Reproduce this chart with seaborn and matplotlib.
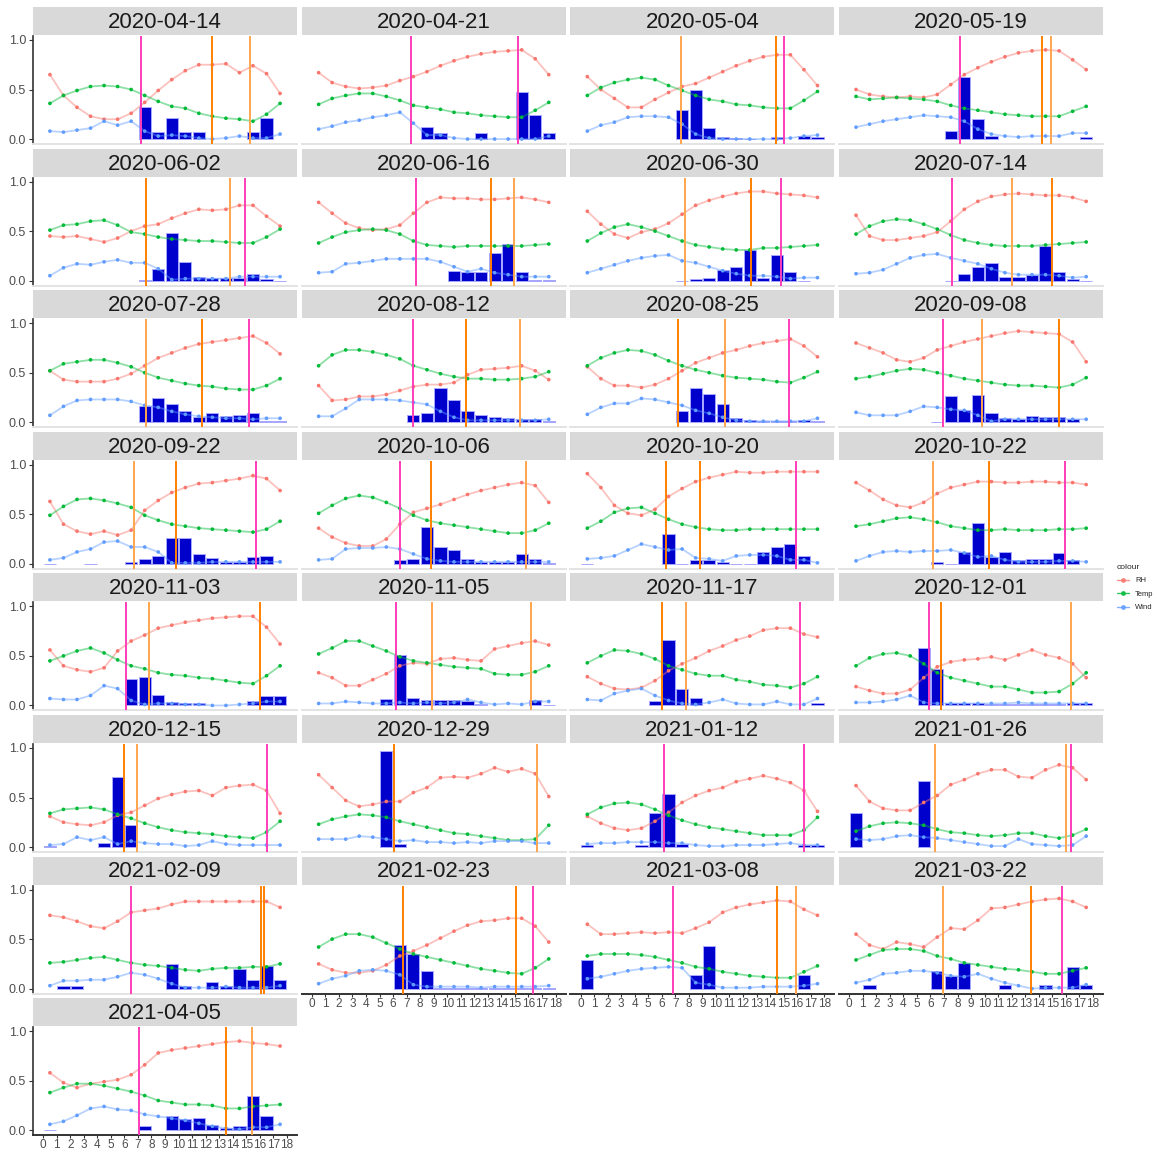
import numpy as np
import pandas as pd
import seaborn as sns
import matplotlib.pyplot as plt
from matplotlib.lines import Line2D

N = np.nan

# ---- data ----------------------------------------------------------------
dates = ["2020-04-14", "2020-04-21", "2020-05-04", "2020-05-19",
         "2020-06-02", "2020-06-16", "2020-06-30", "2020-07-14",
         "2020-07-28", "2020-08-12", "2020-08-25", "2020-09-08",
         "2020-09-22", "2020-10-06", "2020-10-20", "2020-10-22",
         "2020-11-03", "2020-11-05", "2020-11-17", "2020-12-01",
         "2020-12-15", "2020-12-29", "2021-01-12", "2021-01-26",
         "2021-02-09", "2021-02-23", "2021-03-08", "2021-03-22",
         "2021-04-05"]

hours = [h + 0.5 for h in range(18)]

rh = [
    [.65, .44, .32, .23, .20, .20, .26, .37, .49, .60, .69, .75, .75, .76, .67, .74, .66, .46],
    [.67, .57, .53, .51, .52, .54, .59, .63, .68, .74, .79, .83, .86, .88, .89, .90, .81, .65],
    [.63, .50, .41, .32, .32, .40, .47, .53, .56, .62, .68, .74, .79, .83, .85, .85, .70, .54],
    [.50, .45, .43, .42, .43, .42, .45, .55, .65, .72, .78, .83, .87, .89, .90, .89, .80, .70],
    [.45, .44, .45, .42, .39, .43, .50, .55, .57, .63, .68, .72, .71, .72, .76, .76, .65, .55],
    [.79, .68, .58, .53, .51, .52, .56, .68, .79, .84, .83, .83, .82, .82, .83, .84, .82, .79],
    [.70, .57, .47, .43, .49, .52, .58, .67, .76, .81, .85, .88, .90, .90, .88, .87, .86, .84],
    [.66, .45, .41, .41, .43, .45, .49, .60, .72, .80, .85, .87, .88, .87, .86, .86, .84, .80],
    [.52, .43, .41, .41, .41, .44, .49, .57, .65, .70, .75, .79, .81, .83, .85, .87, .80, .69],
    [.37, .22, .23, .26, .26, .28, .32, .36, .38, .38, .40, .48, .53, .54, .55, .57, .52, .43],
    [.56, .44, .37, .37, .35, .38, .44, .52, .60, .65, .70, .73, .77, .80, .82, .84, .77, .66],
    [.80, .75, .70, .63, .61, .65, .73, .77, .81, .84, .87, .90, .92, .91, .90, .89, .81, .61],
    [.63, .40, .33, .30, .33, .29, .34, .54, .64, .72, .77, .81, .82, .84, .86, .89, .86, .74],
    [.36, .27, .21, .18, .18, .25, .40, .52, .56, .60, .65, .70, .74, .77, .80, .82, .79, .62],
    [.91, .77, .59, .51, .49, .55, .68, .76, .83, .87, .90, .93, .92, .92, .93, .93, .93, .93],
    [.82, .74, .65, .59, .57, .62, .71, .77, .80, .83, .83, .82, .82, .83, .83, .82, .82, .80],
    [.56, .40, .36, .34, .38, .55, .65, .71, .78, .81, .84, .86, .88, .89, .90, .90, .79, .62],
    [.33, .28, .20, .20, .26, .32, .40, .43, .42, .47, .48, .46, .45, .57, .60, .63, .65, .61],
    [.29, .22, .17, .16, .18, .25, .35, .42, .48, .55, .60, .66, .70, .76, .78, .78, .72, .69],
    [.19, .15, .12, .12, .16, .28, .39, .44, .46, .47, .49, .46, .51, .56, .51, .48, .42, .28],
    [.31, .25, .23, .22, .25, .32, .35, .42, .49, .53, .56, .57, .52, .60, .62, .63, .57, .34],
    [.73, .60, .47, .41, .43, .46, .46, .55, .60, .70, .71, .70, .74, .80, .76, .79, .74, .51],
    [.31, .24, .19, .17, .19, .26, .35, .45, .52, .57, .60, .66, .69, .72, .69, .65, .57, .36],
    [.62, .46, .39, .37, .37, .45, .52, .63, .68, .74, .78, .78, .71, .70, .78, .83, .80, .68],
    [.74, .72, .68, .63, .61, .68, .77, .79, .81, .85, .88, .88, .88, .88, .88, .88, .88, .82],
    [.25, .19, .16, .16, .18, .24, .33, .38, .44, .51, .58, .64, .68, .69, .71, .71, .63, .47],
    [.65, .55, .55, .56, .57, .56, .57, .56, .61, .67, .77, .82, .85, .87, .89, .88, .80, .74],
    [.55, .44, .40, .47, .45, .42, .52, .61, .60, .69, .81, .82, .85, .88, .90, .91, .88, .82],
    [.58, .48, .43, .47, .49, .51, .56, .66, .78, .81, .83, .85, .87, .89, .90, .88, .87, .85],
]

temp = [
    [.36, .44, .49, .53, .54, .53, .50, .44, .38, .33, .31, .26, .23, .21, .20, .18, .25, .36],
    [.35, .41, .44, .46, .46, .43, .39, .34, .32, .30, .27, .26, .24, .23, .22, .22, .29, .37],
    [.44, .52, .57, .60, .62, .60, .54, .49, .44, .40, .38, .35, .34, .32, .31, .31, .39, .48],
    [.43, .40, .41, .42, .41, .40, .38, .34, .31, .29, .27, .25, .24, .23, .23, .23, .28, .33],
    [.51, .56, .57, .60, .61, .56, .49, .47, .44, .42, .41, .40, .40, .39, .38, .38, .44, .52],
    [.38, .44, .49, .51, .52, .51, .47, .40, .36, .35, .34, .35, .35, .35, .35, .35, .36, .37],
    [.40, .48, .54, .57, .54, .50, .45, .40, .36, .34, .32, .31, .31, .33, .33, .34, .35, .36],
    [.47, .55, .60, .62, .61, .57, .52, .46, .41, .38, .36, .35, .35, .35, .36, .37, .38, .39],
    [.52, .59, .61, .63, .63, .60, .56, .50, .45, .42, .39, .37, .36, .34, .33, .33, .37, .44],
    [.57, .68, .73, .73, .71, .68, .64, .57, .53, .49, .46, .44, .44, .43, .43, .44, .46, .51],
    [.57, .65, .70, .73, .72, .68, .62, .57, .53, .50, .47, .45, .44, .43, .41, .40, .45, .51],
    [.44, .46, .49, .52, .54, .53, .50, .47, .44, .42, .40, .38, .37, .37, .36, .35, .38, .45],
    [.49, .58, .65, .66, .64, .61, .57, .49, .44, .40, .38, .36, .35, .34, .33, .32, .35, .43],
    [.51, .59, .66, .69, .67, .62, .56, .49, .44, .41, .39, .37, .35, .33, .31, .31, .34, .41],
    [.36, .43, .52, .56, .57, .51, .45, .40, .37, .35, .34, .34, .35, .35, .35, .35, .35, .35],
    [.38, .40, .43, .46, .47, .45, .42, .38, .36, .34, .34, .35, .34, .34, .34, .35, .35, .36],
    [.45, .50, .55, .58, .53, .46, .40, .37, .33, .31, .30, .28, .27, .25, .23, .22, .30, .40],
    [.52, .58, .65, .65, .60, .55, .49, .45, .43, .41, .39, .38, .37, .32, .31, .31, .34, .40],
    [.43, .50, .56, .55, .52, .47, .40, .36, .32, .30, .30, .26, .24, .21, .20, .18, .22, .29],
    [.40, .48, .52, .53, .50, .42, .33, .28, .25, .22, .19, .19, .16, .13, .13, .14, .22, .33],
    [.34, .38, .39, .40, .38, .33, .29, .24, .20, .17, .15, .14, .13, .11, .10, .09, .15, .26],
    [.23, .28, .31, .33, .32, .30, .26, .23, .20, .17, .14, .13, .11, .09, .07, .07, .08, .22],
    [.33, .40, .44, .45, .43, .38, .32, .27, .23, .20, .18, .16, .14, .12, .12, .12, .17, .30],
    [.16, .21, .24, .25, .24, .22, .18, .15, .14, .12, .11, .12, .14, .14, .11, .09, .12, .18],
    [.26, .27, .29, .31, .32, .29, .26, .24, .23, .21, .19, .18, .20, .21, .21, .22, .22, .25],
    [.42, .50, .55, .55, .52, .46, .40, .35, .32, .29, .26, .23, .20, .18, .16, .15, .21, .30],
    [.33, .35, .35, .35, .34, .32, .29, .26, .22, .20, .17, .15, .13, .12, .11, .11, .17, .23],
    [.29, .34, .39, .40, .40, .38, .33, .30, .26, .24, .22, .20, .19, .17, .15, .15, .18, .21],
    [.38, .43, .47, .47, .45, .42, .39, .35, .30, .28, .26, .26, .25, .22, .22, .24, .25, .26],
]

wind = [
    [.08, .07, .09, .11, .18, .14, .18, .08, .03, .04, .03, .01, .00, .01, .03, .01, .01, .05],
    [.10, .13, .17, .19, .22, .24, .27, .16, .04, .04, .01, .00, .00, .00, .00, .00, .00, .03],
    [.08, .14, .17, .22, .23, .23, .22, .15, .05, .01, .00, .00, .00, .00, .00, .01, .03, .04],
    [.12, .15, .18, .20, .22, .24, .23, .22, .18, .10, .05, .03, .02, .03, .03, .03, .06, .06],
    [.05, .13, .17, .16, .19, .21, .18, .18, .12, .01, .02, .02, .02, .02, .04, .04, .04, .04],
    [.08, .09, .17, .18, .20, .22, .22, .22, .22, .19, .14, .09, .12, .08, .06, .04, .04, .04],
    [.08, .12, .16, .20, .23, .25, .26, .20, .18, .14, .10, .07, .05, .05, .04, .02, .03, .03],
    [.07, .08, .11, .17, .23, .26, .27, .23, .20, .17, .12, .08, .06, .06, .06, .05, .03, .04],
    [.07, .16, .22, .23, .23, .23, .21, .17, .15, .11, .08, .06, .05, .04, .04, .03, .04, .04],
    [.06, .06, .14, .23, .23, .23, .22, .20, .18, .11, .05, .02, .02, .02, .02, .02, .02, .03],
    [.08, .15, .19, .19, .24, .23, .20, .17, .12, .09, .05, .02, .01, .01, .01, .01, .01, .04],
    [.10, .07, .07, .07, .11, .16, .15, .13, .12, .07, .01, .03, .03, .03, .03, .03, .03, .03],
    [.04, .06, .12, .15, .22, .23, .17, .17, .12, .01, .01, .01, .02, .02, .02, .02, .02, .02],
    [.04, .05, .15, .16, .16, .17, .15, .10, .05, .03, .02, .02, .02, .02, .02, .02, .02, .02],
    [.05, .06, .08, .14, .20, .17, .14, .15, .06, .05, .03, .08, .09, .09, .08, .04, .04, .01],
    [.03, .08, .12, .13, .12, .13, .13, .14, .11, .07, .08, .04, .02, .02, .02, .03, .03, .02],
    [.07, .06, .06, .10, .20, .17, .05, .01, .02, .02, .01, .01, .00, .00, .01, .02, .04, .04],
    [.02, .02, .04, .03, .02, .02, .03, .02, .03, .02, .03, .06, .03, .01, .02, .01, .04, .04],
    [.06, .05, .12, .15, .17, .10, .05, .02, .01, .03, .06, .02, .01, .01, .04, .01, .01, .07],
    [.03, .03, .04, .06, .10, .03, .02, .02, .02, .02, .02, .02, .03, .02, .02, .02, .02, .02],
    [.02, .03, .10, .07, .10, .03, .06, .04, .03, .03, .01, .02, .06, .03, .02, .02, .02, .02],
    [.08, .08, .08, .11, .10, .08, .06, .07, .05, .05, .04, .05, .04, .06, .06, .06, .04, .04],
    [.03, .04, .04, .05, .05, .05, .04, .04, .02, .01, .01, .02, .02, .02, .03, .04, .02, .02],
    [.08, .07, .08, .11, .12, .10, .09, .07, .05, .03, .01, .01, .08, .03, .02, .01, .02, .11],
    [.03, .08, .08, .09, .09, .12, .16, .14, .10, .05, .01, .01, .01, .02, .01, .01, .01, .03],
    [.05, .10, .13, .18, .19, .18, .14, .04, .02, .02, .02, .02, .01, .02, .02, .02, .02, .03],
    [.10, .12, .15, .18, .20, .21, .22, .21, .06, .04, .01, .01, .01, .02, .02, .02, .03, .05],
    [.06, .09, .15, .16, .18, .18, .16, .13, .12, .15, .10, .06, .03, .00, .01, .01, .01, .04],
    [.06, .09, .15, .22, .24, .21, .20, .16, .14, .12, .10, .07, .04, .02, .01, .03, .03, .06],
]

bars = [
    [N, N, N, N, N, N, N, .32, .07, .21, .07, .07, N, N, N, .07, .21, N],
    [N, N, N, N, N, N, N, N, .12, .06, N, N, .06, N, N, .47, .24, .06],
    [N, N, N, N, N, N, N, .29, .49, .11, .02, .01, 0, N, .02, N, .03, .02],
    [N, N, N, N, N, N, N, .08, .63, .20, .03, N, N, N, N, N, N, .02],
    [N, N, N, N, N, N, N, .01, .12, .48, .19, .04, .03, .03, .03, .07, .02, 0],
    [N, N, N, N, N, N, N, N, N, N, .10, .09, .09, .28, .37, .09, .01, .01],
    [N, N, N, N, N, N, N, 0, .02, .03, .11, .14, .31, .03, .26, .09, 0, N],
    [N, N, N, N, N, N, N, 0, .07, .14, .18, .04, .04, .06, .35, .09, .02, 0],
    [N, N, N, N, N, N, N, .16, .24, .18, .11, .05, .09, .06, .07, .09, .01, .01],
    [N, N, N, N, N, N, N, .07, .09, .35, .22, .11, .07, .05, .04, .03, .03, .01],
    [N, N, N, N, N, N, N, .11, .35, .29, .18, .04, .02, .01, .01, .01, .02, .01],
    [N, N, N, N, N, N, 0, .26, .12, .27, .09, .04, .03, .06, .05, .05, .03, N],
    [0, N, N, 0, N, N, .02, .05, .08, .26, .26, .10, .06, .02, .02, .07, .08, N],
    [N, N, N, N, N, N, .04, .05, .37, .17, .14, .05, .02, .02, .02, .10, .05, .01],
    [0, N, N, N, N, N, .30, 0, .04, .04, .02, 0, 0, .12, .17, .20, .08, N],
    [N, N, N, N, N, N, .02, 0, .12, .41, .07, .12, .04, .05, .05, .11, .04, N],
    [N, N, N, N, N, N, .27, .29, .11, .03, .02, .02, N, N, N, .04, .10, .10],
    [N, N, N, N, N, .07, .51, .08, .05, .05, .06, .04, .01, N, N, N, .06, 0],
    [N, N, N, N, N, .04, .66, .17, .08, N, N, N, N, N, N, N, N, .02],
    [N, N, N, N, N, .58, .37, .02, .02, .02, .01, .01, .01, .01, .01, .01, .02, .02],
    [.01, N, N, N, .04, .71, .22, N, N, N, N, N, N, N, N, N, N, N],
    [N, N, N, N, N, .97, .03, N, N, N, N, N, N, N, N, N, N, N],
    [.02, N, N, N, .02, .34, .54, .03, N, N, N, N, N, N, N, N, .02, .02],
    [.34, N, N, N, N, .67, N, N, N, N, N, N, N, N, N, N, N, N],
    [N, .03, .03, N, N, N, N, N, N, .25, .03, N, .07, .03, .20, .09, .23, .09],
    [N, N, N, N, N, N, .44, .35, .18, .01, .01, .01, .01, .01, .01, .01, .01, .01],
    [.29, N, N, N, N, N, N, N, .14, .43, N, N, N, N, N, N, .14, N],
    [N, .04, N, N, N, N, .18, .13, .26, N, N, .04, N, N, .04, N, .22, .04],
    [0, N, N, N, N, N, N, .04, N, .14, .11, .12, .05, .02, .04, .35, .14, N],
]

# vertical markers: (hour, kind)  p = pink, o = dark orange, l = light orange
vlines = [
    [(7.2, "p"), (12.5, "o"), (15.3, "l")],
    [(7.3, "p"), (15.2, "p")],
    [(7.4, "l"), (14.4, "o"), (15.0, "p")],
    [(8.2, "p"), (14.2, "o"), (14.9, "l")],
    [(7.6, "o"), (13.8, "l"), (14.9, "p")],
    [(7.7, "p"), (13.2, "o"), (14.9, "l")],
    [(7.7, "l"), (12.6, "o"), (14.8, "p")],
    [(7.6, "p"), (12.0, "l"), (15.0, "o")],
    [(7.6, "l"), (11.7, "o"), (15.2, "p")],
    [(7.5, "p"), (11.4, "o"), (15.4, "l")],
    [(7.2, "o"), (10.7, "l"), (15.4, "p")],
    [(6.9, "p"), (9.8, "l"), (15.5, "o")],
    [(6.7, "l"), (9.8, "o"), (15.7, "p")],
    [(6.5, "p"), (8.8, "o"), (15.8, "l")],
    [(6.3, "o"), (8.8, "o"), (15.9, "p")],
    [(6.2, "l"), (10.3, "o"), (15.9, "p")],
    [(6.1, "p"), (7.8, "l"), (16.0, "o")],
    [(6.2, "p"), (8.9, "l"), (16.2, "l")],
    [(6.0, "o"), (7.8, "l"), (16.2, "p")],
    [(5.9, "p"), (6.8, "o"), (16.4, "l")],
    [(6.0, "o"), (6.9, "l"), (16.5, "p")],
    [(6.05, "o"), (16.6, "l")],
    [(6.2, "p"), (16.5, "p")],
    [(6.35, "l"), (16.0, "l"), (16.4, "p")],
    [(6.5, "p"), (16.1, "o"), (16.3, "o")],
    [(6.7, "o"), (15.1, "o"), (16.3, "p")],
    [(6.8, "p"), (14.5, "o"), (15.9, "l")],
    [(6.9, "l"), (13.4, "o"), (15.7, "p")],
    [(7.1, "p"), (13.5, "o"), (15.4, "l")],
]

# ---- style ---------------------------------------------------------------
sns.set_theme(style="white")
plt.rcParams["font.family"] = ["Liberation Sans", "DejaVu Sans"]

pal = {"RH": "#F8766D", "Temp": "#00BA38", "Wind": "#619CFF"}
vcol = {"p": "#FF3DB8", "o": "#FF8000", "l": "#FFA64D"}

W, H = 1157, 1152
fig = plt.figure(figsize=(W / 100, H / 100), dpi=100)


def box(left, top, w, h):
    return [left / W, 1 - (top + h) / H, w / W, h / H]


ncol = 4
n = len(dates)
for i, d in enumerate(dates):
    r, c = divmod(i, ncol)
    left = 33 + 268.7 * c
    stop = 7 + 141.6 * r

    # strip
    sax = fig.add_axes(box(left, stop, 264, 28))
    sax.set_facecolor("#D9D9D9")
    sax.set_xticks([]); sax.set_yticks([])
    for s in sax.spines.values():
        s.set_visible(False)
    sax.text(0.5, 0.45, d, ha="center", va="center", fontsize=16,
             color="#1A1A1A", transform=sax.transAxes)

    ax = fig.add_axes(box(left, stop + 29, 264, 108))

    hb = np.array(bars[i], dtype=float)
    ok = ~np.isnan(hb)
    ax.bar(np.array(hours)[ok], hb[ok], width=0.9, color="#0000CD",
           edgecolor="#A8A8FF", linewidth=0.7, zorder=1)

    df = pd.DataFrame({
        "hour": hours * 3,
        "value": rh[i] + temp[i] + wind[i],
        "colour": ["RH"] * 18 + ["Temp"] * 18 + ["Wind"] * 18,
    })
    sns.lineplot(data=df, x="hour", y="value", hue="colour", palette=pal,
                 ax=ax, legend=False, alpha=0.45, linewidth=1.3, zorder=2)
    sns.scatterplot(data=df, x="hour", y="value", hue="colour", palette=pal,
                    ax=ax, legend=False, s=7, linewidth=0, zorder=3)

    for xv, k in vlines[i]:
        ax.axvline(xv, color=vcol[k], linewidth=1.4, zorder=4)

    ax.set_xlim(-0.75, 18.75)
    ax.set_ylim(-0.05, 1.04)
    ax.set_xlabel(""); ax.set_ylabel("")
    ax.set_facecolor("white")
    for s in ["top", "right"]:
        ax.spines[s].set_visible(False)

    bottom_panel = i + ncol >= n
    if c == 0:
        ax.spines["left"].set_color("#333333")
        ax.spines["left"].set_linewidth(1.2)
        ax.set_yticks([0, 0.5, 1.0])
        ax.set_yticklabels(["0.0", "0.5", "1.0"])
        ax.tick_params(axis="y", length=3, width=0.8, color="#333333",
                       labelsize=9, labelcolor="#4D4D4D", pad=2, left=True)
    else:
        ax.spines["left"].set_visible(False)
        ax.set_yticks([])

    if bottom_panel:
        ax.spines["bottom"].set_color("#333333")
        ax.spines["bottom"].set_linewidth(1.4)
        ax.set_xticks(range(19))
        ax.tick_params(axis="x", length=2, width=0.8, color="#333333",
                       labelsize=8.5, labelcolor="#4D4D4D", pad=1, bottom=True)
    else:
        ax.spines["bottom"].set_color("#E3E3E3")
        ax.spines["bottom"].set_linewidth(1.4)
        ax.set_xticks([])

# legend
handles = [Line2D([0], [0], color=pal[k], marker="o", markersize=2.5,
                  linewidth=1, alpha=0.8, label=k) for k in pal]
fig.legend(handles=handles, title="colour", loc="upper left",
           bbox_to_anchor=(1110 / W, 1 - 557 / H), frameon=False,
           fontsize=5.5, title_fontsize=6, handlelength=1.6,
           labelspacing=0.8, alignment="left")

fig.savefig("out.png", dpi=100)
